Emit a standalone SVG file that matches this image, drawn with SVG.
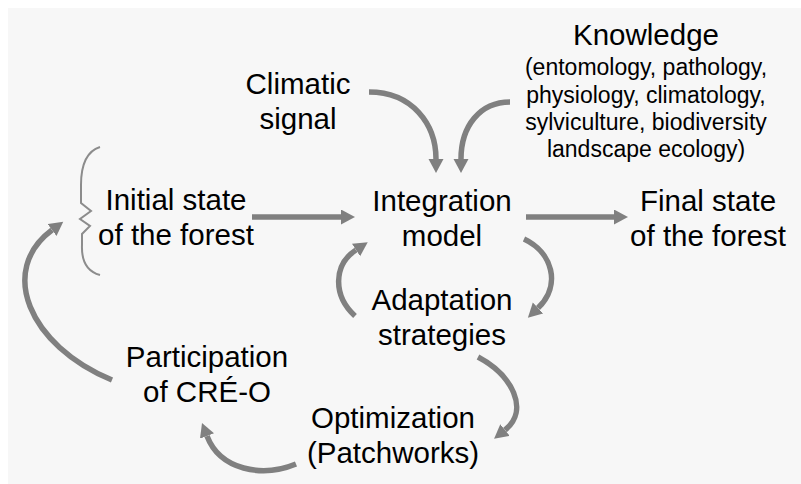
<svg xmlns="http://www.w3.org/2000/svg" width="801" height="484" viewBox="0 0 801 484">
<defs>
<marker id="ah" markerUnits="userSpaceOnUse" markerWidth="16" markerHeight="16" refX="0" refY="7.5" orient="auto">
<path d="M0,0 L14,7.5 L0,15 z" fill="#808080"/>
</marker>
<style>
.t{font-family:"Liberation Sans",Arial,sans-serif;font-size:29.5px;fill:#000;text-anchor:middle}
.s{font-family:"Liberation Sans",Arial,sans-serif;font-size:23px;fill:#000;text-anchor:middle}
.c{fill:none;stroke:#808080;stroke-width:5.5;marker-end:url(#ah)}
.b{fill:none;stroke:#8c8c8c;stroke-width:2}
</style>
</defs>
<rect x="0" y="0" width="801" height="484" fill="#ffffff"/>
<rect x="8" y="8" width="793" height="476" fill="#f7f7f7"/>
<g id="connectors">
<path class="c" d="M252,217 L341,217"/>
<path class="c" d="M526,217 L614,217"/>
<path class="c" d="M369,92 C412,92 436,124 436,159"/>
<path class="c" d="M510,102 C480,102 461,126 461,159"/>
<path class="c" d="M524,239 C552,252 562,285 538,308"/>
<path class="c" d="M355,316 C333,296 333,265 356,250"/>
<path class="c" d="M478,357 C512,375 530,410 505,430"/>
<path class="c" d="M296,464 C262,478 220,470 207,436"/>
<path class="c" d="M112,380 C28,345 -2,270 52,230"/>
</g>
<g id="brace">
<path class="b" d="M100,147 Q81,153 81,185 L81,203 L91,211 L80,219 L90,226 L82,234 L82,245 Q81,270 100,275"/>
</g>
<g id="climatic"><text class="t" x="298" y="94">Climatic</text><text class="t" x="298" y="129">signal</text></g>
<g id="knowledge"><text class="t" x="646" y="45">Knowledge</text>
<text class="s" x="646" y="75">(entomology, pathology,</text>
<text class="s" x="646" y="102.5">physiology, climatology,</text>
<text class="s" x="646" y="130">sylviculture, biodiversity</text>
<text class="s" x="646" y="157">landscape ecology)</text></g>
<g id="initial"><text class="t" x="176" y="210">Initial state</text><text class="t" x="176" y="245">of the forest</text></g>
<g id="integration"><text class="t" x="442" y="211">Integration</text><text class="t" x="442" y="246">model</text></g>
<g id="final"><text class="t" x="708" y="211">Final state</text><text class="t" x="708" y="246">of the forest</text></g>
<g id="adaptation"><text class="t" x="442" y="310">Adaptation</text><text class="t" x="442" y="345">strategies</text></g>
<g id="participation"><text class="t" x="207" y="367">Participation</text><text class="t" x="207" y="402">of CRÉ-O</text></g>
<g id="optimization"><text class="t" x="393" y="428">Optimization</text><text class="t" x="393" y="463">(Patchworks)</text></g>
</svg>
